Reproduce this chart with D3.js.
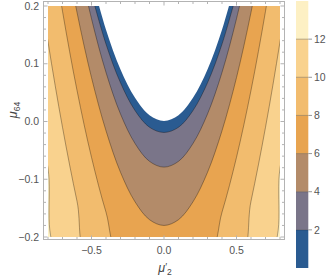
<!DOCTYPE html>
<html>
<head>
<meta charset="utf-8">
<script src="https://cdn.jsdelivr.net/npm/d3@7"></script>
<style>
body{margin:0;background:#fff}
text{font-family:"Liberation Sans",Arial,sans-serif}
</style>
</head>
<body>
<svg id="chart" width="327" height="279"></svg>
<script>
// contour levels, each curve as [mu2', mu64] for mu2' >= 0 (plot is symmetric)
const levels = [0, 2, 4, 6, 8, 10, 12]
const line0 = [[0, 0.001], [0.1, 0.011], [0.2, 0.041], [0.3, 0.090], [0.4, 0.159], [0.5, 0.248]]
const line2 = [[0, -0.019], [0.1, -0.010], [0.2, 0.019], [0.3, 0.067], [0.4, 0.134], [0.5, 0.221]]
const line4 = [[0, -0.079], [0.1, -0.069], [0.2, -0.038], [0.3, 0.013], [0.4, 0.085], [0.5, 0.178], [0.6, 0.291]]
const line6 = [[0, -0.180], [0.1, -0.170], [0.2, -0.139], [0.3, -0.088], [0.4, -0.016], [0.5, 0.076], [0.6, 0.189], [0.7, 0.322]]
const line8 = [[0.3, -0.231], [0.4, -0.157], [0.5, -0.062], [0.6, 0.054], [0.7, 0.191], [0.8, 0.349]]
const line10 = [[0.5, -0.247], [0.6, -0.138], [0.7, -0.010], [0.8, 0.138], [0.9, 0.306]]
const line12 = [[0.7, -0.238], [0.8, -0.081], [0.9, 0.098]]
const lines = [line0, line2, line4, line6, line8, line10, line12]

const xTicks = [-0.5, 0, 0.5]
const yTicks = [-0.2, -0.1, 0, 0.1, 0.2]
const barTicks = [2, 4, 6, 8, 10, 12]

// band colours, 0-2 up to 12-14
const bandColors = ["#2a5b91", "#7a7589", "#b38b69", "#e8a450", "#f2bc6e", "#f9d28e", "#fdf0c4"]

const svg = d3.select("#chart")
const x = d3.scaleLinear().domain([-0.8, 0.8]).range([48, 280])
const y = d3.scaleLinear().domain([-0.2, 0.2]).range([237, 6])

svg.append("clipPath").attr("id", "plot")
  .append("rect").attr("x", 48).attr("y", 6).attr("width", 232).attr("height", 231)

const g = svg.append("g").attr("clip-path", "url(#plot)")

g.append("rect")
  .attr("x", 48).attr("y", 6).attr("width", 232).attr("height", 231)
  .attr("fill", bandColors[6])

const curve = d3.line()
  .x(d => x(d[0]))
  .y(d => y(d[1]))
  .curve(d3.curveCatmullRom.alpha(0.5))

// mirror the right half to get the whole curve, left to right
const whole = pts => pts.slice().reverse().map(d => [-d[0], d[1]])
  .concat(pts.filter(d => d[0] > 0))

const inside = pts => {
  let p = whole(pts)
  let a = p[0], b = p[p.length - 1]
  return curve(p) + "L" + x(b[0]) + ",-60L" + x(a[0]) + ",-60Z"
}

// inner regions, from high level down
for (let i = levels.length - 1; i >= 1; i--) {
  g.append("path")
    .attr("d", inside(lines[i]))
    .attr("fill", bandColors[i - 1])
}
g.append("path")
  .attr("d", inside(lines[0]))
  .attr("fill", "#fff")

for (let i = 1; i < levels.length; i++) {
  g.append("path")
    .attr("d", curve(whole(lines[i])))
    .attr("fill", "none")
    .attr("stroke", "#000")
    .attr("stroke-opacity", 0.4)
    .attr("stroke-width", 0.8)
}

// frame with inward ticks
const fx0 = 43.5, fx1 = 284.5, fy0 = 1.5, fy1 = 239.5
svg.append("rect")
  .attr("x", fx0).attr("y", fy0).attr("width", fx1 - fx0).attr("height", fy1 - fy0)
  .attr("fill", "none").attr("stroke", "#b3b3b3")

const tk = svg.append("g").attr("stroke", "#b3b3b3")
d3.range(-8, 9).forEach(k => {
  let v = k / 10, len = k % 5 == 0 ? 4 : 2.5
  tk.append("line").attr("x1", x(v)).attr("x2", x(v)).attr("y1", fy1).attr("y2", fy1 - len)
  tk.append("line").attr("x1", x(v)).attr("x2", x(v)).attr("y1", fy0).attr("y2", fy0 + len)
})
d3.range(-10, 11).forEach(k => {
  let v = k / 50, len = k % 5 == 0 ? 4 : 2.5
  tk.append("line").attr("x1", fx0).attr("x2", fx0 + len).attr("y1", y(v)).attr("y2", y(v))
  tk.append("line").attr("x1", fx1).attr("x2", fx1 - len).attr("y1", y(v)).attr("y2", y(v))
})

const fmt = d3.format(".1f")
svg.append("g").selectAll("text").data(xTicks).join("text")
  .attr("x", d => x(d)).attr("y", 254)
  .attr("text-anchor", "middle")
  .attr("font-size", 10.5).attr("fill", "#555")
  .text(d => fmt(d))

svg.append("g").selectAll("text").data(yTicks).join("text")
  .attr("x", 39).attr("y", d => y(d)).attr("dy", "0.35em")
  .attr("text-anchor", "end")
  .attr("font-size", 10.5).attr("fill", "#555")
  .text(d => fmt(d))

// axis labels
let xl = svg.append("text").attr("x", 165).attr("y", 272)
  .attr("text-anchor", "middle").attr("font-size", 12.5).attr("fill", "#444")
xl.append("tspan").attr("font-style", "italic").text("μ")
xl.append("tspan").attr("dy", -1).attr("font-size", 10).text("′")
xl.append("tspan").attr("dy", 4).attr("font-size", 8.5).text("2")

let yl = svg.append("text").attr("transform", "translate(17,110) rotate(-90)")
  .attr("text-anchor", "middle").attr("font-size", 12.5).attr("fill", "#444")
yl.append("tspan").attr("font-style", "italic").text("μ")
yl.append("tspan").attr("dy", 3).attr("font-size", 8.5).text("64")

// colour bar
const c = d3.scaleLinear().domain([0, 14]).range([268, 1])
const bar = svg.append("g")
bandColors.forEach((col, i) => {
  bar.append("rect")
    .attr("x", 296).attr("width", 12.3)
    .attr("y", c(i * 2 + 2)).attr("height", c(i * 2) - c(i * 2 + 2))
    .attr("fill", col)
})
bar.selectAll("line.lv").data(barTicks).join("line")
  .attr("x1", 296).attr("x2", 308.3)
  .attr("y1", d => c(d)).attr("y2", d => c(d))
  .attr("stroke", "#000").attr("stroke-opacity", 0.35).attr("stroke-width", 0.8)
bar.selectAll("line.tk").data(barTicks).join("line")
  .attr("x1", 308.3).attr("x2", 312)
  .attr("y1", d => c(d)).attr("y2", d => c(d))
  .attr("stroke", "#999")
bar.selectAll("text").data(barTicks).join("text")
  .attr("x", 314).attr("y", d => c(d)).attr("dy", "0.35em")
  .attr("font-size", 10.5).attr("fill", "#555")
  .text(d => d)
</script>
</body>
</html>
